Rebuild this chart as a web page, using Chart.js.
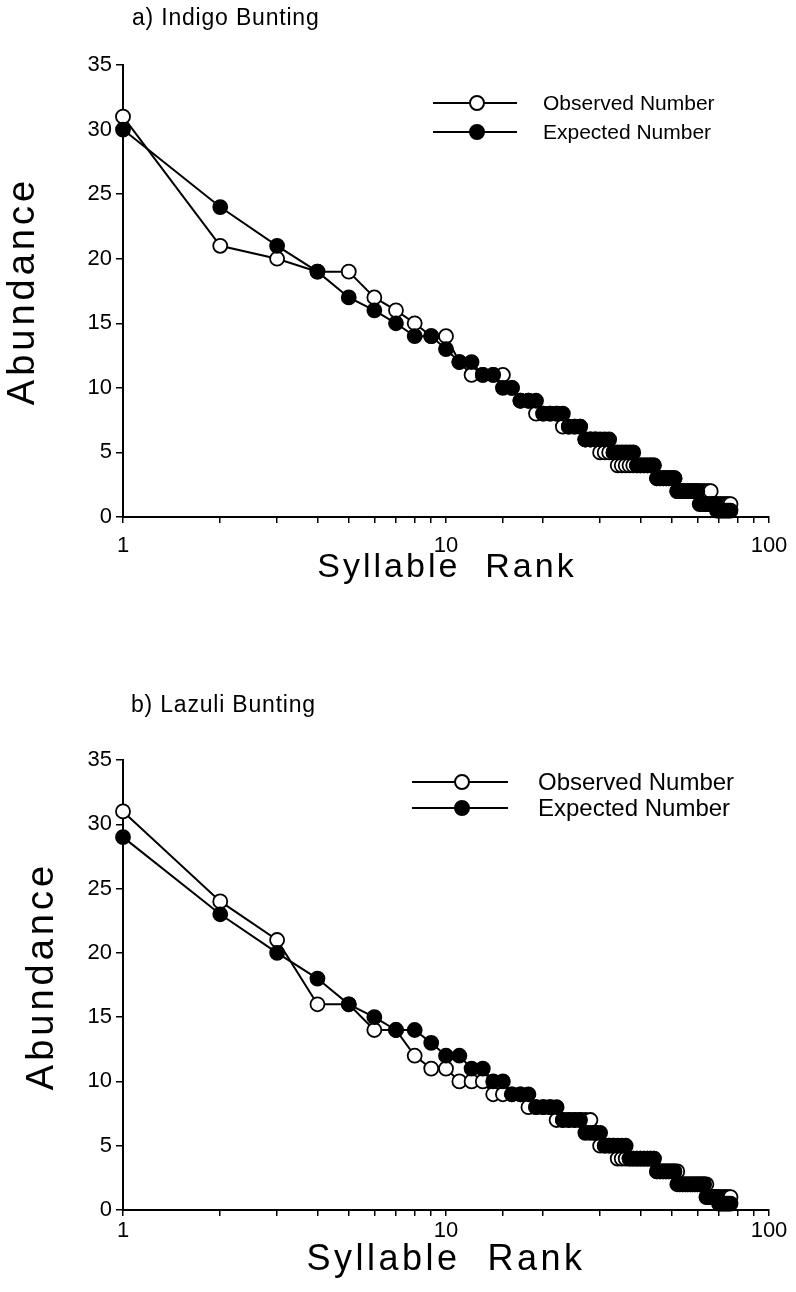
<!DOCTYPE html>
<html><head><meta charset="utf-8">
<script src="https://cdn.jsdelivr.net/npm/chart.js@4.4.1/dist/chart.umd.min.js"></script>
<style>
html,body{margin:0;padding:0;background:#fff;width:796px;height:1292px;overflow:hidden}
canvas{position:absolute;left:0}
#c1{top:0}#c2{top:646px}
</style></head>
<body>
<canvas id="c1" width="796" height="646"></canvas>
<canvas id="c2" width="796" height="646"></canvas>
<script>
// ---------- data ----------
const xTickLabels = [1, 10, 100];
const yTicks = [0, 5, 10, 15, 20, 25, 30, 35];
const seriesNames = ["Observed Number", "Expected Number"];

// a) Indigo Bunting
const ranksA = [1,2,3,4,5,6,7,8,9,10,11,12,13,14,15,16,17,18,19,20,21,22,23,24,25,26,27,28,29,30,31,32,33,34,35,36,37,38,39,40,41,42,43,44,45,46,47,48,49,50,51,52,53,54,55,56,57,58,59,60,61,62,63,64,65,66,67,68,69,70,71,72,73,74,75,76];
const observedA = [31,21,20,19,19,17,16,15,14,14, 12,11,11,11,11,10,9,9,8,8, 8,8,7,7,7,7,6,6,6,5, 5,5,5,4,4,4,4,4,4,4, 4,4,4,4,3,3,3,3,3,3, 3,2,2,2,2,2,2,2,2,2, 2,2,2,2,2,2,1,1,1,1, 1,1,1,1,1,1];
const expectedA = [30,24,21,19,17,16,15,14,14,13, 12,12,11,11,10,10,9,9,9,8, 8,8,8,7,7,7,6,6,6,6, 6,6,5,5,5,5,5,5,4,4, 4,4,4,4,3,3,3,3,3,3, 3,2,2,2,2,2,2,2,2,2, 1,1,1,1,1,1,1,1,0.5,0.5, 0.5,0.5,0.5,0.5,0.5,0.5];

// b) Lazuli Bunting
const ranksB = [1,2,3,4,5,6,7,8,9,10,11,12,13,14,15,16,17,18,19,20,21,22,23,24,25,26,27,28,29,30,31,32,33,34,35,36,37,38,39,40,41,42,43,44,45,46,47,48,49,50,51,52,53,54,55,56,57,58,59,60,61,62,63,64,65,66,67,68,69,70,71,72,73,74,75,76];
const observedB = [31,24,21,16,16,14,14,12,11,11, 10,10,10,9,9,9,9,8,8,8, 8,7,7,7,7,7,7,7,6,5, 5,5,5,4,4,4,4,4,4,4, 4,4,4,4,3,3,3,3,3,3, 3,3,2,2,2,2,2,2,2,2, 2,2,2,2,1,1,1,1,1,1, 1,1,1,1,1,1];
const expectedB = [29,23,20,18,16,15,14,14,13,12, 12,11,11,10,10,9,9,9,8,8, 8,8,7,7,7,7,6,6,6,6, 5,5,5,5,5,5,4,4,4,4, 4,4,4,4,3,3,3,3,3,3, 3,2,2,2,2,2,2,2,2,2, 2,2,2,1,1,1,1,1,1,0.5, 0.5,0.5,0.5,0.5,0.5,0.5];

// ---------- drawing ----------
const FONT = '"Liberation Sans", Arial, Helvetica, sans-serif';

function annotPlugin(cfg){
  return {
    id: 'annot',
    afterDraw(chart){
      const ctx = chart.ctx;
      cfg.texts.forEach(t => {
        ctx.save();
        ctx.font = t.font;
        ctx.fillStyle = '#000';
        ctx.letterSpacing = (t.sp || 0) + 'px';
        ctx.textAlign = t.align || 'left';
        ctx.textBaseline = t.base || 'middle';
        ctx.translate(t.x, t.y);
        if (t.rot) ctx.rotate(t.rot);
        ctx.fillText(t.text, 0, 0);
        ctx.restore();
      });
      const L = cfg.legend;
      seriesNames.forEach((name, i) => {
        const y = L.rows[i];
        ctx.save();
        ctx.strokeStyle = '#000';
        ctx.lineWidth = 2;
        ctx.beginPath(); ctx.moveTo(L.x1, y); ctx.lineTo(L.x2, y); ctx.stroke();
        ctx.beginPath(); ctx.arc(L.mx, y, 7, 0, Math.PI * 2);
        ctx.fillStyle = i === 0 ? '#fff' : '#000';
        ctx.fill(); ctx.stroke();
        ctx.fillStyle = '#000';
        ctx.font = L.font;
        ctx.textAlign = 'left';
        ctx.textBaseline = 'middle';
        ctx.fillText(name, L.tx, y + 1);
        ctx.restore();
      });
    }
  };
}

function makeChart(id, ranks, obs, exp, lay, annot){
  const pts = arr => ranks.map((r, i) => ({ x: r, y: arr[i] }));
  const common = {
    borderColor: '#000', borderWidth: 2, pointRadius: 7, pointHoverRadius: 7,
    pointBorderColor: '#000', pointBorderWidth: 1.8, fill: false, tension: 0, clip: false
  };
  return new Chart(document.getElementById(id), {
    type: 'line',
    data: {
      datasets: [
        Object.assign({ label: seriesNames[1], data: pts(exp), pointBackgroundColor: '#000', backgroundColor: '#000', order: 0 }, common),
        Object.assign({ label: seriesNames[0], data: pts(obs), pointBackgroundColor: '#fff', backgroundColor: '#fff', order: 1 }, common)
      ]
    },
    options: {
      responsive: false, animation: false, devicePixelRatio: 1,
      layout: { padding: { left: 0, right: 796 - lay.right, top: lay.top, bottom: 0 } },
      plugins: { legend: { display: false }, tooltip: { enabled: false }, title: { display: false } },
      scales: {
        x: {
          type: 'logarithmic', min: 1, max: 100,
          border: { display: true, color: '#000', width: 2 },
          grid: { display: true, drawOnChartArea: false, drawTicks: true, tickLength: 6, color: '#000', lineWidth: 1.5 },
          ticks: {
            autoSkip: false, maxRotation: 0, minRotation: 0, padding: lay.xpad, color: '#000',
            font: { family: FONT, size: 22 },
            callback: v => xTickLabels.includes(v) ? String(v) : ''
          },
          afterFit: s => { s.height = 646 - lay.bottom; s.paddingLeft = 0; s.paddingRight = 0; }
        },
        y: {
          type: 'linear', min: 0, max: 35,
          border: { display: true, color: '#000', width: 2 },
          grid: { display: true, drawOnChartArea: false, drawTicks: true, tickLength: 7, color: '#000', lineWidth: 1.5 },
          afterBuildTicks: s => { s.ticks = yTicks.map(v => ({ value: v })); },
          ticks: { padding: 4, color: '#000', font: { family: FONT, size: 22 } },
          afterFit: s => { s.width = lay.left; s.paddingTop = 0; s.paddingBottom = 0; }
        }
      }
    },
    plugins: [annotPlugin(annot)]
  });
}

makeChart('c1', ranksA, observedA, expectedA,
  { left: 123, right: 769, top: 65, bottom: 517, xpad: 10 },
  {
    texts: [
      { text: 'a) Indigo Bunting', x: 132, y: 25, font: '23px ' + FONT, sp: 0.8, base: 'alphabetic' },
      { text: 'Abundance', x: 24, y: 291, font: '38px ' + FONT, sp: 4, align: 'center', rot: -Math.PI / 2 },
      { text: 'Syllable  Rank', x: 447, y: 568, font: '34px ' + FONT, sp: 3, align: 'center' }
    ],
    legend: { x1: 433, x2: 517, mx: 477, tx: 543, rows: [103, 132], font: '21px ' + FONT }
  });

makeChart('c2', ranksB, observedB, expectedB,
  { left: 123, right: 769, top: 114, bottom: 564, xpad: 2 },
  {
    texts: [
      { text: 'b) Lazuli Bunting', x: 131, y: 66, font: '23px ' + FONT, sp: 0.8, base: 'alphabetic' },
      { text: 'Abundance', x: 43, y: 330, font: '38px ' + FONT, sp: 4, align: 'center', rot: -Math.PI / 2 },
      { text: 'Syllable  Rank', x: 446, y: 614, font: '36px ' + FONT, sp: 3.5, align: 'center' }
    ],
    legend: { x1: 412, x2: 508, mx: 462, tx: 538, rows: [136, 162], font: '24px ' + FONT }
  });
</script>
</body></html>
